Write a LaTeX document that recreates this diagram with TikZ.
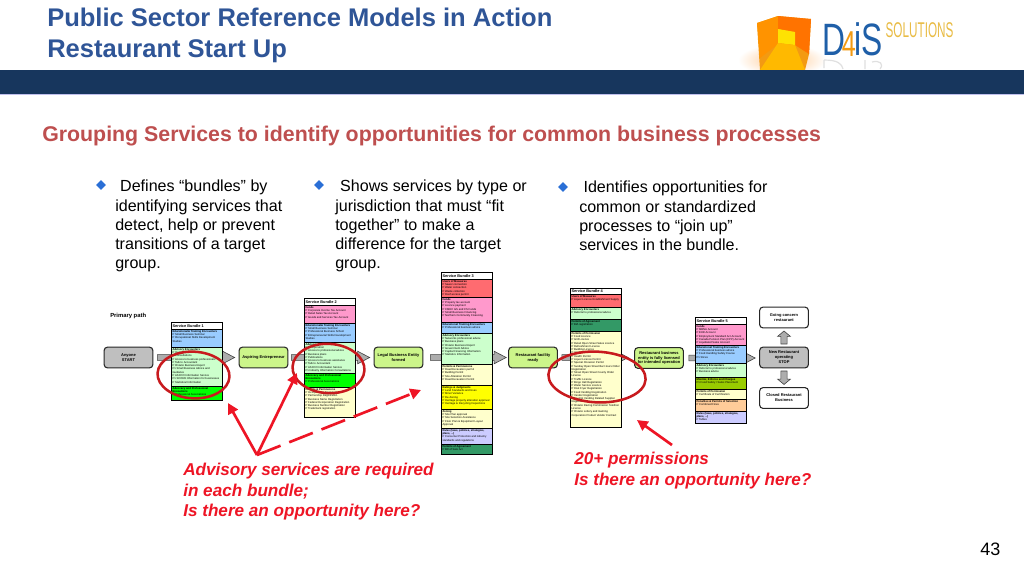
\documentclass[tikz,border=0pt]{standalone}
\usepackage{fontspec}
\setmainfont{Liberation Sans}
\usetikzlibrary{arrows.meta,shapes.geometric,calc}
\definecolor{navy}{HTML}{17365D}
\definecolor{titleblue}{HTML}{2F5597}
\definecolor{headred}{HTML}{BE4F4F}
\definecolor{bulletblue}{HTML}{2A6FD6}
\definecolor{alert}{HTML}{EE1525}
\definecolor{ringred}{HTML}{C81A1E}
\definecolor{cPink}{HTML}{FF99CC}
\definecolor{cBlue}{HTML}{99CCFF}
\definecolor{cLtGreen}{HTML}{CCFFCC}
\definecolor{cBright}{HTML}{00FF00}
\definecolor{cYellow}{HTML}{FFFF00}
\definecolor{cCream}{HTML}{FFFFCC}
\definecolor{cRed}{HTML}{FF6B70}
\definecolor{cLav}{HTML}{CCCCFF}
\definecolor{cDark}{HTML}{339966}
\definecolor{cOlive}{HTML}{99CC00}
\definecolor{cPeach}{HTML}{FFCC99}
\definecolor{cNode}{HTML}{CCF58A}
\definecolor{cGray}{HTML}{BFBFBF}
\definecolor{logoblue}{HTML}{1F5FA8}
\definecolor{logogold}{HTML}{E9BC45}
\definecolor{logoorange}{HTML}{F39A12}
\tikzset{
  x=0.75pt,y=-0.75pt,
  txt/.style={anchor=west,inner sep=0pt,align=left},
  titletxt/.style={txt,anchor=base west,text=titleblue,font=\fontsize{19.15}{22}\selectfont\bfseries},
  bodytxt/.style={txt,font=\fontsize{12.05}{14.45}\selectfont},
  alerttxt/.style={txt,text=alert,font=\fontsize{12.85}{15.4}\selectfont\bfseries\itshape},
  bulletmark/.style={diamond,aspect=1,fill=bulletblue,inner sep=0pt,minimum size=7.5pt},
  stage/.style={draw=black!85,line width=0.8pt,rounded corners=2.4pt,align=center,inner sep=0pt,
     minimum width=36.5pt,minimum height=15.5pt,font=\fontsize{3}{3.7}\selectfont\bfseries},
  ready/.style={stage,fill=cNode},
  grayst/.style={stage,fill=cGray},
  whitest/.style={stage,fill=white},
  sectbox/.style={draw=black,line width=0.7pt,anchor=north west,inner xsep=0.8pt,inner ysep=0pt},
  blockarrow/.style={draw=black!75,fill=black!32,line width=0.45pt},
  ring/.style={draw=ringred,line width=1.9pt},
  alertline/.style={draw=alert,line width=2pt,-{Triangle[length=8pt,width=8pt]}},
}
% section of a bundle: name, left, top, bottom, colour, text
\newcommand{\bsect}[6]{%
  \pgfmathsetlengthmacro{\sectH}{(#4-#3)*0.75pt}%
  \node[sectbox,fill=#5] (#1) at (#2,#3) {\parbox[c][\sectH][t]{36.8pt}{\raggedright\fontsize{2.05}{2.45}\selectfont\vspace*{0.7pt}#6}};}
\newcommand{\btitle}[5]{%
  \pgfmathsetlengthmacro{\sectH}{(#4-#3)*0.75pt}%
  \node[sectbox,fill=white] (#1) at (#2,#3) {\parbox[c][\sectH][c]{36.8pt}{\fontsize{2.9}{3}\selectfont\bfseries #5}};}
% horizontal block arrow between two nodes, with the two gaps in px
\newcommand{\blockH}[4]{%
  \draw[blockarrow] let \p1=(#1.east),\p2=(#2.west) in
   (\x1+#3*0.75pt,\y1-2.2pt) -- (\x2-#4*0.75pt-9pt,\y1-2.2pt) -- (\x2-#4*0.75pt-9pt,\y1-4.7pt)
   -- (\x2-#4*0.75pt,\y1) -- (\x2-#4*0.75pt-9pt,\y1+4.7pt) -- (\x2-#4*0.75pt-9pt,\y1+2.2pt)
   -- (\x1+#3*0.75pt,\y1+2.2pt) -- cycle;}
\newcommand{\Hd}[1]{{\bfseries #1}\\}
\begin{document}
\begin{tikzpicture}
\useasboundingbox (0,0) rectangle (1024,576);
\fill[white] (0,0) rectangle (1024,576);
% ---------- logo
\shade[inner color=orange!45,outer color=white] (782,60) ellipse (44 and 16);
\fill[logoorange] (757,23) -- (778,16) -- (811,19) -- (809,54) -- (805,70) -- (760,70) -- (758,40) -- cycle;
\fill[orange!85!yellow] (757,23) -- (778,16) -- (778,44) -- (760,58) -- cycle;
\fill[orange!90!red] (778,16) -- (811,19) -- (809,54) -- (795,45) -- (795,32) -- (778,29) -- cycle;
\fill[yellow!85!orange] (778,29) -- (795,32) -- (795,45) -- (778,43) -- cycle;
\fill[orange!55!yellow] (760,70) -- (778,43) -- (795,45) -- (805,70) -- cycle;
\node[txt,xscale=0.70,transform shape,text=logoblue,font=\fontsize{34}{34}\selectfont] (logotext) at (822,39.5)
  {D\kern-3.5pt\raisebox{-0.6pt}{\textcolor{logoorange}{\fontsize{27}{27}\selectfont 4}}\kern-1pt iS};
\node[txt,xscale=0.55,transform shape,text=logogold,font=\fontsize{16}{16}\selectfont] (logosol) at (885.5,30) {SOLUTIONS};
\draw[black!12,line width=0.9pt] (824,60) -- (824,68) (824,60) .. controls (838,60) and (842,64) .. (843,69)
  (865,60) -- (865,69) (872,62) .. controls (880,60) and (884,64) .. (880,69);
% ---------- header
\fill[navy] (0,70) rectangle (1024,94);
\fill[black!30!blue!25] (0,94) rectangle (1024,95);
\node[titletxt] (t1) at (47,26) {Public Sector Reference Models in Action};
\node[titletxt] (t2) at (47,57) {Restaurant Start Up};
\node[txt,text=headred,font=\fontsize{16}{19}\selectfont\bfseries] (head) at (42,136)
  {Grouping Services to identify opportunities for common business processes};
% ---------- bullets
\node[bulletmark] (bu1) at (101,185) {};
\node[bulletmark] (bu2) at (319,185) {};
\node[bulletmark] (bu3) at (563,187) {};
\node[bodytxt,anchor=north west] (c1) at (115,180) {\hspace*{3.7pt}Defines “bundles” by\\identifying services that\\detect, help or prevent\\transitions of a target\\group.};
\node[bodytxt,anchor=north west] (c2) at (335,180) {\hspace*{3.7pt}Shows services by type or\\jurisdiction that must “fit\\together” to make a\\difference for the target\\group.};
\node[bodytxt,anchor=north west] (c3) at (579,181) {\hspace*{3.2pt}Identifies opportunities for\\common or standardized\\processes to “join up”\\services in the bundle.};
% ---------- stages
\node[txt,font=\fontsize{4.4}{5}\selectfont\bfseries] (pp) at (110,316) {Primary path};
\node[grayst]  (any)  at (128.5,357.5) {Anyone\\START};
\node[ready]   (asp)  at (263.5,357.5) {Aspiring Entrepreneur};
\node[ready]   (leg)  at (398.5,357.5) {Legal Business Entity\\formed};
\node[ready]   (fac)  at (533,357.5) {Restaurant facility\\ready};
\node[ready]   (ent)  at (659,358) {Restaurant business\\entity is fully licensed\\for intended operation};
\node[whitest] (goc)  at (784,317.5) {Going concern\\restaurant};
\node[grayst]  (new)  at (784,357.5) {New Restaurant\\operating\\STOP};
\node[whitest] (clo)  at (784,398) {Closed Restaurant\\Business};
% ---------- block arrows
\blockH{any}{asp}{4}{4}
\blockH{asp}{leg}{3}{4}
\blockH{leg}{fac}{7}{2}
\blockH{fac}{ent}{4}{6}
\blockH{ent}{new}{5}{4}
\draw[blockarrow] let \p1=(new.north),\p2=(goc.south) in
  (\x1-2.3pt,\y1+2pt) -- (\x1-2.3pt,\y2-6pt) -- (\x1-4.8pt,\y2-6pt) -- (\x1,\y2-2pt)
  -- (\x1+4.8pt,\y2-6pt) -- (\x1+2.3pt,\y2-6pt) -- (\x1+2.3pt,\y1+2pt) -- cycle;
\draw[blockarrow] let \p1=(new.south),\p2=(clo.north) in
  (\x1-2.3pt,\y1-2pt) -- (\x1-2.3pt,\y2+6pt) -- (\x1-4.8pt,\y2+6pt) -- (\x1,\y2+2pt)
  -- (\x1+4.8pt,\y2+6pt) -- (\x1+2.3pt,\y2+6pt) -- (\x1+2.3pt,\y1-2pt) -- cycle;
% ---------- bundle 1
\btitle{b1t}{171}{322}{329}{Service Bundle 1}
\bsect{b1a}{171}{329}{347}{cBlue}{\Hd{Educational\& Training Encounters}P Small Business Seminar\\P Occupational Skills Development Studies}
\bsect{b1b}{171}{347}{386}{cLtGreen}{\Hd{Advisory Encounters}P Incorporation\\P Consultations\\P Access to business professionals\\P Talk to Accountant\\P Ontario Business Report\\P1 Small Business Advice and Guidance\\P ASCCO Information Service\\P1 SCORE Information for businesses\\P Statistical Information}
\bsect{b1c}{171}{386}{400}{cBright}{\Hd{Advocacy and Professional Encounters}P Professional Associations}
% ---------- bundle 2
\btitle{b2t}{304}{298}{305}{Service Bundle 2}
\bsect{b2a}{304}{305}{323}{cPink}{\Hd{Funds}P Corporate Income Tax Account\\P Retail Sales Tax Account\\P Goods and Services Tax Account}
\bsect{b2b}{304}{323}{342}{cBlue}{\Hd{Educational\& Training Encounters}P Small Business Seminar\\P Professional Business School\\P Entrepreneurial Skills Development Studies}
\bsect{b2c}{304}{342}{373}{cLtGreen}{\Hd{Advisory Encounters}P Incorporation\\P Access to professional advice\\P Business plans\\P Publications\\P Access to business assistance\\P Talk to Accountant\\P ASCCO Information Service\\P1 Industry Information Consultations}
\bsect{b2d}{304}{373}{387}{cBright}{\Hd{Advocacy and Professional Encounters}P Professional Associations}
\bsect{b2e}{304}{387}{417}{cCream}{\Hd{Permits \& Permissions}P Incorporation Registration\\P Partnership Registration\\P Business Name Registration\\P Federal Incorporation Registration\\P Business Number Registration\\P Trademark registration}
% ---------- bundle 3
\btitle{b3t}{441}{272}{279}{Service Bundle 3}
\bsect{b3a}{441}{279}{297}{cRed}{\Hd{Users of Measures}P Sewer connection\\P Water connection\\P Waste collection\\P Roof access permit}
\bsect{b3b}{441}{297}{322}{cPink}{\Hd{Funds}P Property tax account\\P Licence payment\\P CMHC GS and CS Funds\\P Small Business Financing\\P Northern Community Financing}
\bsect{b3c}{441}{322}{333}{cBlue}{\Hd{Educational Training Encounters}P Professional business advice}
\bsect{b3d}{441}{333}{364}{cLtGreen}{\Hd{Advisory Encounters}P Networks professional advice\\P Business plans\\P Ontario Business Report\\P Government Advice\\P Capital Financing Information\\P Statistics Information}
\bsect{b3e}{441}{364}{385}{cCream}{\Hd{Permits \& Permissions}P Road Excavation permit\\P Building Permit\\P Site Alteration Permit\\P Road Excavation Permit}
\bsect{b3f}{441}{385}{409}{cYellow}{\Hd{Ratings \& Judgments}P Land Standards and Uses\\P Minor Variance\\P Re-Zoning\\P Heritage property alteration approval\\P Heritage \& Recycling Inspections}
\bsect{b3g}{441}{409}{428}{cCream}{\Hd{Zoning}P Site Plan approval\\P Site Selection Assistance\\P Floor Plan \& Equipment Layout Approval}
\bsect{b3h}{441}{428}{444}{cLav}{\Hd{Rules (laws, policies, strategies, plans, ...)}P Consumer Protection and industry standards and regulations}
\bsect{b3i}{441}{444}{454}{cDark}{\Hd{Permits of Agreement}P Bill of Sale Act}
% ---------- bundle 4
\btitle{b4t}{570}{288}{294}{Service Bundle 4}
\bsect{b4a}{570}{294}{307}{cRed}{\Hd{Users of Measures}P Liquor Licence Establishment Supply}
\bsect{b4b}{570}{307}{319}{cLtGreen}{\Hd{Advisory Encounters}P Referral to professional advice}
\bsect{b4c}{570}{319}{331}{cDark}{\Hd{Permits of Agreement}P BIA registration}
\bsect{b4d}{570}{331}{427}{cCream}{\Hd{Permits of Permission}P Food Licence\\P Grill Licence\\P Retail Open Street Sales Licence\\P Refreshment Licence\\P Building Licence\\P Vendor Permit\\P Health Permit\\P Liquor Licence Permit\\P Special Occasion Permit\\P Sunday Open Street Bar Hours Order Registration\\P Street Open Street County Order Licence\\P Traffic Licence\\P Bingo Hall Registration\\P Water Service Licence\\P Disk Fryer Registration\\P Food Vending Registration\\P Vendor Registration\\P Exempt Vending Related Supplier Registration\\P Ontario Racing Commission Telethon Licence\\P Ontario Lottery and Gaming Corporation Product Vendor Contract}
% ---------- bundle 5
\btitle{b5t}{695}{317}{324}{Service Bundle 5}
\bsect{b5a}{695}{324}{345}{cPink}{\Hd{Funds}P MBNA Account\\P EHR Account\\P Employment Standard Act Account\\P Canada Pension Plan (CPP) Account\\P Liquidated Sales Account}
\bsect{b5b}{695}{345}{363}{cBlue}{\Hd{Educational Training Encounters}P Professional business advice\\P Food Handling Safety Course\\P1 Slices}
\bsect{b5c}{695}{363}{377}{cLtGreen}{\Hd{Advisory Encounters}P Referral to professional advice\\P Business advice}
\bsect{b5d}{695}{377}{389}{cOlive}{\Hd{Monitor, Enforce and Charges}P1 Food Safety / Sales Placement}
\bsect{b5e}{695}{389}{399}{cCream}{\Hd{Permits of Permission}P Certificate of Certification}
\bsect{b5f}{695}{399}{411}{cPeach}{\Hd{Penalties \& Permits of Selection}P Combined Fines}
\bsect{b5g}{695}{411}{423}{cLav}{\Hd{Rules (laws, policies, strategies, plans, ...)}P Tables}
% ---------- red rings and arrows
\node[ring,ellipse,minimum width=54pt,minimum height=35pt,inner sep=0pt,rotate=-3] (r1) at (193.5,375) {};
\node[ring,ellipse,minimum width=54pt,minimum height=37pt,inner sep=0pt,rotate=-3] (r2) at (328.5,368.5) {};
\node[ring,ellipse,minimum width=73pt,minimum height=38pt,inner sep=0pt,rotate=-3] (r3) at (597,377) {};
\coordinate (apex) at (257,455);
\coordinate (tip1) at (228,403);
\coordinate (tip2) at (297,373);
\coordinate (tip3) at (421,390);
\coordinate (ptail) at (672,445);
\coordinate (ptip) at (637,420);
\draw[alertline] (apex) -- (tip1);
\draw[alertline] (apex) -- (tip2);
\draw[alertline,dash pattern=on 19pt off 7pt] (apex) -- (tip3);
\draw[alertline] (ptail) -- (ptip);
% ---------- red texts
\node[alerttxt,anchor=north west] (a1) at (183,463) {Advisory services are required\\in each bundle;\\Is there an opportunity here?};
\node[alerttxt,anchor=north west] (a2) at (574,452) {20+ permissions\\Is there an opportunity here?};
\node[txt,font=\fontsize{13.5}{15}\selectfont] (pg) at (980,549) {43};
\end{tikzpicture}
\end{document}
